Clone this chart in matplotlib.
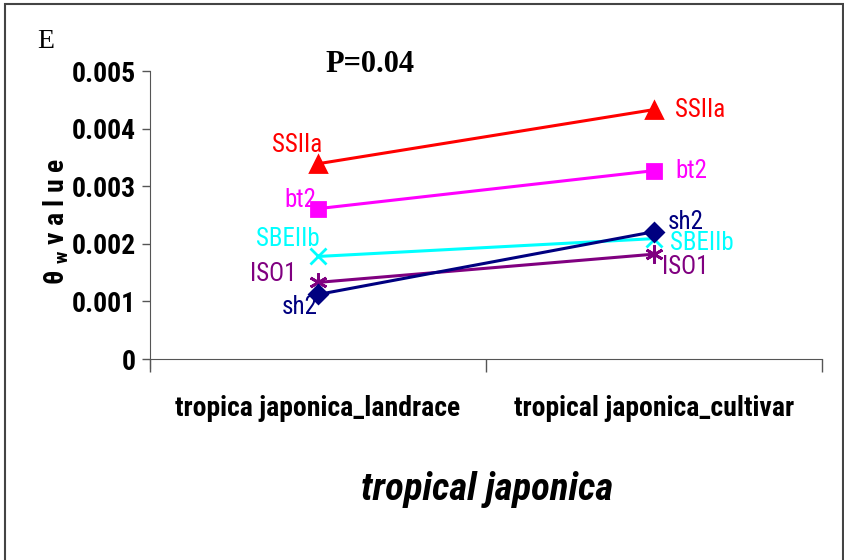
import numpy as np
import matplotlib.pyplot as plt
from matplotlib.patches import Rectangle

# data
groups = ["tropica japonica_landrace", "tropical japonica_cultivar"]
genes = ["SSIIa", "bt2", "SBEIIb", "ISO1", "sh2"]
landrace = [0.00339, 0.00261, 0.00178, 0.00133, 0.00112]
cultivar = [0.00433, 0.00327, 0.00209, 0.00182, 0.00221]
yticks = [0, 0.001, 0.002, 0.003, 0.004, 0.005]

colors = ["#ff0000", "#ff00ff", "#00ffff", "#800080", "#000080"]
markers = ["^", "s", "x", (6, 2, 0), "D"]
msizes = [11, 10, 12, 13, 9]
# label offsets in pixels from the point (left group / right group)
left_off = [(4, 19), (-2, 9), (2, 17), (-22, 8), (0, -13)]
right_off = [(21, 0), (21, 0), (16, -4), (8, -13), (14, 10)]

narrow = ["Roboto Condensed", "DejaVu Sans"]
plt.rcParams["mathtext.fontset"] = "custom"
plt.rcParams["mathtext.rm"] = "Roboto Condensed:bold"

fig = plt.figure(figsize=(8.44, 5.6), dpi=100)
ax = fig.add_axes([150 / 844, 1 - 359 / 560, 672 / 844, 288 / 560])

x = np.array([0.5, 1.5])
for i, g in enumerate(genes):
    ax.plot(x, [landrace[i], cultivar[i]], color=colors[i], lw=2.2,
            marker=markers[i], ms=msizes[i], mew=2, clip_on=False)
    ax.annotate(g, (x[0], landrace[i]), xytext=left_off[i], textcoords="offset pixels",
                ha="right", va="center", color=colors[i], fontsize=18, family=narrow)
    ax.annotate(g, (x[1], cultivar[i]), xytext=right_off[i], textcoords="offset pixels",
                ha="left", va="center", color=colors[i], fontsize=18, family=narrow)

ax.set_xlim(0, 2)
ax.set_ylim(0, 0.005)
ax.set_yticks(yticks)
ax.set_yticklabels(["0", "0.001", "0.002", "0.003", "0.004", "0.005"],
                   family=narrow, fontweight="bold", fontsize=20)
ax.set_xticks([0, 1, 2])
ax.set_xticklabels([])
ax.set_xticks(x, minor=True)
ax.set_xticklabels(groups, minor=True, family=narrow, fontweight="bold", fontsize=20)
ax.tick_params(axis="x", which="minor", length=0, pad=26)
ax.tick_params(axis="x", which="major", length=9, width=1, color="#555555", direction="out")
ax.tick_params(axis="y", length=6, width=1, color="#555555", pad=4)
for s in ["top", "right"]:
    ax.spines[s].set_visible(False)
ax.spines["left"].set_color("#555555")
ax.spines["bottom"].set_color("#555555")
ax.spines["left"].set_bounds(-0.00015, 0.005)

fig.text(325 / 844, 1 - 65 / 560, "P=0.04", family="Liberation Serif", fontweight="bold",
         fontsize=22, ha="left", va="center")
fig.text(37 / 844, 1 - 42 / 560, "E", family="Liberation Serif", fontsize=20,
         ha="left", va="center")
fig.text(56 / 844, 1 - 222 / 560, r"θ $_{\rm w}$ v a l u e", rotation=90,
         family=narrow, fontweight="bold", fontsize=20, ha="center", va="center")
fig.text(487 / 844, 1 - 490 / 560, "tropical japonica", family=narrow,
         fontweight="bold", style="italic", fontsize=28, ha="center", va="center")

fig.add_artist(Rectangle((5 / 844, -0.01), 838 / 844, 1 - 4 / 560 + 0.01,
                         transform=fig.transFigure, fill=False, ec="#444444", lw=1.5))

fig.savefig("out.png", dpi=100)
